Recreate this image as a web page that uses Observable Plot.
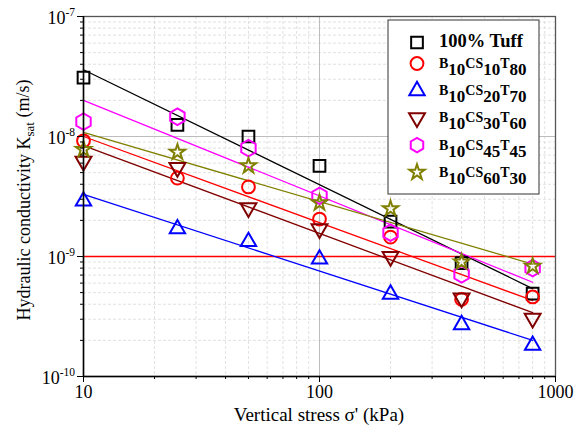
<!DOCTYPE html>
<html>
<head>
<meta charset="utf-8">
<script src="https://cdn.jsdelivr.net/npm/d3@7"></script>
<script src="https://cdn.jsdelivr.net/npm/@observablehq/plot@0.6"></script>
<style>
  body { margin: 0; background: #fff; }
  #chart { position: relative; width: 574px; height: 430px; }
</style>
</head>
<body>
<div id="chart"></div>
<script>
// Vertical stress steps (kPa)
const stress = [10, 25, 50, 100, 200, 400, 800];

// Saturated hydraulic conductivity (m/s) per mix
const tuff  = [3.1e-8, 1.25e-8, 1.0e-8, 5.7e-9, 1.95e-9, 8.8e-10, 4.9e-10];
const cs10  = [9.2e-9, 4.5e-9, 3.8e-9, 2.05e-9, 1.45e-9, 4.4e-10, 4.6e-10];
const cs20  = [2.9e-9, 1.7e-9, 1.33e-9, 9.5e-10, 4.85e-10, 2.7e-10, 1.82e-10];
const cs30  = [6.2e-9, 5.5e-9, 2.55e-9, 1.7e-9, 1.0e-9, 4.5e-10, 3.05e-10];
const cs45  = [1.33e-8, 1.46e-8, 8.0e-9, 3.2e-9, 1.58e-9, 7.1e-10, 8.0e-10];
const cs60  = [7.8e-9, 7.4e-9, 5.7e-9, 2.8e-9, 2.5e-9, 9.0e-10, 8.3e-10];

// Power-law trend lines, drawn between the first and last stress step
const fitStress = [10, 800];
const tuffFit = [3.6e-8, 5.4e-10];
const cs10Fit = [1.0e-8, 4.3e-10];
const cs20Fit = [3.3e-9, 2.0e-10];
const cs30Fit = [8.4e-9, 3.4e-10];
const cs45Fit = [2.0e-8, 6.1e-10];
const cs60Fit = [1.08e-8, 8.65e-10];

// Reference permeability limit
const limit = [1e-9];

// Legend names as [letters, subscript digits] pieces
const names = [
  [["100% Tuff", ""]],
  [["B", "10"], ["CS", "10"], ["T", "80"]],
  [["B", "10"], ["CS", "20"], ["T", "70"]],
  [["B", "10"], ["CS", "30"], ["T", "60"]],
  [["B", "10"], ["CS", "45"], ["T", "45"]],
  [["B", "10"], ["CS", "60"], ["T", "30"]]
];

// Axis ticks
const xMajor = [10, 100, 1000];
const xMinor = [20, 30, 40, 50, 60, 70, 80, 90, 200, 300, 400, 500, 600, 700, 800, 900];
const yMajor = [1e-10, 1e-9, 1e-8, 1e-7];
const yMinor = [];
for (const d of [1e-10, 1e-9, 1e-8]) for (let k = 2; k <= 9; k++) yMinor.push(k * d);

const series = [
  {values: tuff, fit: tuffFit, color: "#000000", symbol: "square",   r: 6.6, rotate: 0},
  {values: cs10, fit: cs10Fit, color: "#ff0000", symbol: "circle",   r: 6.4, rotate: 0},
  {values: cs20, fit: cs20Fit, color: "#0000ff", symbol: "triangle", r: 5.7, rotate: 0},
  {values: cs30, fit: cs30Fit, color: "#800000", symbol: "triangle", r: 5.9, rotate: 180},
  {values: cs45, fit: cs45Fit, color: "#ff00ff", symbol: "hexagon",  r: 7.2, rotate: 0},
  {values: cs60, fit: cs60Fit, color: "#808000", symbol: "star",     r: 4.8, rotate: 0}
];

const font = "'Liberation Serif', 'Times New Roman', serif";

const marks = [
  // dashed minor grid
  Plot.ruleX(xMinor, {stroke: "#d9d9d9", strokeDasharray: "3,2", strokeWidth: 0.8}),
  Plot.ruleY(yMinor, {stroke: "#d9d9d9", strokeDasharray: "3,2", strokeWidth: 0.8}),
  // solid major grid
  Plot.ruleX([100], {stroke: "#bdbdbd", strokeWidth: 1}),
  Plot.ruleY([1e-8], {stroke: "#bdbdbd", strokeWidth: 1}),
  Plot.ruleY(limit, {stroke: "#ff0000", strokeWidth: 1.3})
];

for (const s of series) {
  marks.push(Plot.line(fitStress.map((x, i) => ({x, y: s.fit[i]})), {
    x: "x", y: "y", stroke: s.color, strokeWidth: 1.3
  }));
}
for (const s of series) {
  marks.push(Plot.dot(stress.map((x, i) => ({x, y: s.values[i]})), {
    x: "x", y: "y", symbol: s.symbol, r: s.r, rotate: s.rotate,
    stroke: s.color, strokeWidth: 2, fill: "none"
  }));
}

marks.push(
  Plot.frame({stroke: "#555", strokeWidth: 1.3}),
  Plot.ruleX([10], {stroke: "#000", strokeWidth: 1.5}),
  Plot.ruleY([1e-10], {stroke: "#000", strokeWidth: 1.5}),
  Plot.axisX({ticks: xMajor, tickFormat: d => String(d), tickSize: 6, tickPadding: 3, label: null}),
  Plot.axisX({ticks: xMinor, tickFormat: () => "", tickSize: 3, label: null}),
  Plot.axisY({ticks: yMajor, tickFormat: () => "", tickSize: 6, label: null}),
  Plot.axisY({ticks: yMinor, tickFormat: () => "", tickSize: 3, label: null})
);

const chart = Plot.plot({
  width: 574,
  height: 430,
  marginLeft: 83,
  marginRight: 19,
  marginTop: 16,
  marginBottom: 54,
  style: {fontFamily: font, fontSize: "18px", background: "#fff", color: "#000", overflow: "visible"},
  x: {type: "log", domain: [10, 1000]},
  y: {type: "log", domain: [1e-10, 1e-7]},
  marks
});

document.getElementById("chart").appendChild(chart);

const svg = d3.select(chart);
svg.selectAll('g[aria-label$="tick label"]').attr("font-size", 18).attr("font-family", font);

// Power-of-ten labels on the y axis, placed with the plot's own y scale
const yScale = chart.scale("y");
const yLabels = svg.append("g")
  .attr("font-family", font).attr("text-anchor", "end");
for (const v of yMajor) {
  const py = yScale.apply(v);
  const t = yLabels.append("text").attr("x", 75).attr("y", py + 7.5).attr("font-size", 18);
  t.append("tspan").text("10");
  t.append("tspan").attr("dy", -7.5).attr("font-size", 11.5).text(String(Math.round(Math.log10(v))));
}

// Axis titles
svg.append("text")
  .attr("x", 319).attr("y", 421)
  .attr("text-anchor", "middle")
  .attr("font-family", font).attr("font-size", 19)
  .text("Vertical stress \u03c3' (kPa)");

const yTitle = svg.append("text")
  .attr("transform", "translate(30,200) rotate(-90)")
  .attr("text-anchor", "middle")
  .attr("font-family", font).attr("font-size", 18);
yTitle.append("tspan").text("Hydraulic conductivity K");
yTitle.append("tspan").attr("dy", "0.3em").attr("font-size", 13).text("sat");
yTitle.append("tspan").attr("dy", "-0.3em").attr("font-size", 18).text(" (m/s)");

// Legend box
const legend = svg.append("g");
legend.append("rect")
  .attr("x", 388).attr("y", 20).attr("width", 151).attr("height", 174)
  .attr("fill", "#fff").attr("stroke", "#333").attr("stroke-width", 1);

const symbolFor = {
  square: d3.symbolSquare,
  circle: d3.symbolCircle,
  triangle: d3.symbolTriangle,
  star: d3.symbolStar,
  hexagon: {
    draw(context, size) {
      const rx = Math.sqrt(size / Math.PI), ry = rx * Math.sqrt(3) / 2;
      context.moveTo(0, rx);
      context.lineTo(ry, rx / 2);
      context.lineTo(ry, -rx / 2);
      context.lineTo(0, -rx);
      context.lineTo(-ry, -rx / 2);
      context.lineTo(-ry, rx / 2);
      context.closePath();
    }
  }
};

const rowY = [42.5, 63.5, 90.7, 117.9, 145.1, 172.3];
series.forEach((s, i) => {
  const cy = rowY[i];
  const base = cy + 4.5;
  legend.append("path")
    .attr("d", d3.symbol(symbolFor[s.symbol], Math.PI * s.r * s.r)())
    .attr("transform", `translate(417,${cy}) rotate(${s.rotate})`)
    .attr("fill", "none").attr("stroke", s.color).attr("stroke-width", 2);
  const t = legend.append("text")
    .attr("x", 439).attr("y", base)
    .attr("text-anchor", "start")
    .attr("font-family", font).attr("font-weight", "bold");
  if (names[i].length === 1) {
    t.attr("font-size", 18.5).text(names[i][0][0]);
    return;
  }
  for (const [main, sub] of names[i]) {
    t.append("tspan").attr("y", base).attr("font-size", 14).text(main);
    t.append("tspan").attr("y", base + 7).attr("font-size", 17).text(sub);
  }
});
</script>
</body>
</html>
